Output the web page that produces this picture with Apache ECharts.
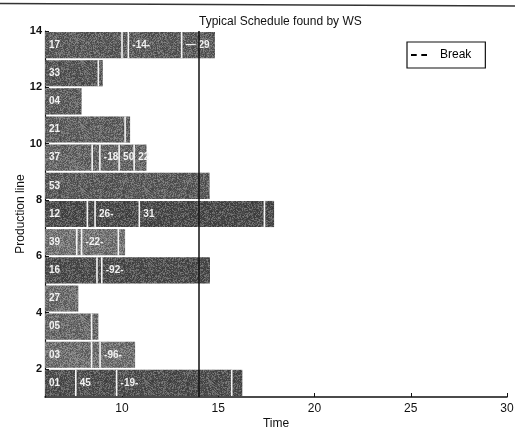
<!DOCTYPE html>
<html>
<head>
<meta charset="utf-8">
<script src="https://cdn.jsdelivr.net/npm/echarts@6/dist/echarts.min.js"></script>
<style>html,body{margin:0;padding:0;background:#fff}#c{width:515px;height:429px}</style>
</head>
<body>
<div id="c"></div>
<script>
// ---- data ----
const jobRow   = [14,14,14,14, 13,13, 12, 11,11, 10,10,10,10,10, 9, 8,8,8,8,8, 7,7,7,7, 6,6,6, 5, 4,4, 3,3,3, 2,2,2,2];
const jobStart = [6,10.0,10.33,13.1, 6,8.77, 6, 6,10.16, 6,8.45,8.85,9.85,10.63, 6, 6,8.2,8.6,10.9,17.4, 6,7.65,7.9,9.81, 6,8.7,8.95, 6, 6,8.42, 6,8.42,8.86, 6,7.6,9.72,15.7];
const jobEnd   = [10.0,10.33,13.1,14.83, 8.77,9.0, 7.9, 10.16,10.42, 8.45,8.85,9.85,10.63,11.27, 14.55, 8.2,8.6,10.9,17.4,17.9, 7.65,7.9,9.81,10.16, 8.7,8.95,14.57, 7.73, 8.42,8.77, 8.42,8.86,10.68, 7.6,9.72,15.7,16.25];
const jobLabel = ['17','','-14-','\u2014 29', '33','', '04', '21','', '37','','-18-','50','22', '53', '12','','26-','31','', '39','','-22-','', '16','','-92-', '27', '05','', '03','','-96-', '01','45','-19-',''];
const breakTime = 14;
const xTicks = [10,15,20,25,30];
const yTicks = [2,4,6,8,10,12,14];

// ---- style ----
const rowShade = {14:'#5c5c5c',13:'#585858',12:'#5e5e5e',11:'#626262',10:'#676767',9:'#5c5c5c',8:'#4b4b4b',7:'#777777',6:'#4e4e4e',5:'#6e6e6e',4:'#6c6c6c',3:'#727272',2:'#505050'};

// deterministic grain texture overlay
const tex = document.createElement('canvas');
tex.width = 64; tex.height = 64;
(function(){
  const ctx = tex.getContext('2d');
  const img = ctx.createImageData(64,64);
  let s = 12345;
  function r(){ s = (s*1103515245 + 12345) & 0x7fffffff; return s/0x7fffffff; }
  for (let i=0;i<64*64;i++){
    const v = r();
    const w = v > 0.5;
    img.data[i*4] = img.data[i*4+1] = img.data[i*4+2] = w ? 255 : 0;
    img.data[i*4+3] = Math.floor(Math.abs(v-0.5)*2*70);
  }
  ctx.putImageData(img,0,0);
})();

const segData = jobRow.map((r,i)=>[r, jobStart[i], jobEnd[i], i]);
const FONT = 'Liberation Sans, Arial, sans-serif';

const chart = echarts.init(document.getElementById('c'), null, {renderer:'canvas'});
chart.setOption({
  animation: false,
  backgroundColor: '#fff',
  title: {
    text: 'Typical Schedule found by WS',
    left: 194, top: 11,
    textStyle: {fontSize: 12, fontWeight: 'normal', color: '#111', fontFamily: FONT}
  },
  legend: {
    data: [{name: 'Break', icon: 'path://M0,0h5v1.6h-5z M9,0h5v1.6h-5z'}],
    left: 407, top: 42,
    borderColor: '#111', borderWidth: 1.2,
    padding: [7, 14, 7, 4],
    itemWidth: 16, itemHeight: 3,
    textStyle: {fontSize: 12, color: '#000', fontFamily: FONT, padding: [0,0,0,8]}
  },
  grid: {left: 45, right: 8, top: 31, bottom: 32, outerBoundsMode: 'none', containLabel: false},
  xAxis: {
    type: 'value', min: 6, max: 30,
    name: 'Time', nameLocation: 'middle', nameGap: 21, nameMoveOverlap: false,
    nameTextStyle: {fontSize: 12, color: '#111', fontFamily: FONT},
    axisLine: {show: true, lineStyle: {color: '#111', width: 1.5}},
    axisTick: {show: true, inside: true, length: 4, customValues: xTicks, lineStyle: {color: '#111'}},
    axisLabel: {customValues: xTicks, fontSize: 12, color: '#111', margin: 6, fontFamily: FONT},
    splitLine: {show: false}
  },
  yAxis: {
    type: 'value', min: 1, max: 14,
    name: 'Production line', nameLocation: 'middle', nameGap: 18, nameMoveOverlap: false,
    nameTextStyle: {fontSize: 12, color: '#111', fontFamily: FONT},
    axisLine: {show: true, lineStyle: {color: '#111', width: 1.2}},
    axisTick: {show: true, inside: true, length: 4, customValues: yTicks, lineStyle: {color: '#111'}},
    axisLabel: {customValues: yTicks, fontSize: 11, fontWeight: 'bold', color: '#111', margin: 3, fontFamily: FONT},
    splitLine: {show: false}
  },
  series: [
    {
      type: 'custom',
      name: 'jobs',
      data: segData,
      renderItem: function(params, api){
        const row = api.value(0), s = api.value(1), e = api.value(2), idx = api.value(3);
        const p1 = api.coord([s, row]);
        const p2 = api.coord([e, row - 1]);
        const x = p1[0], y = p1[1] + 1, w = p2[0] - p1[0], h = p2[1] - p1[1] - 2;
        const children = [
          {type: 'rect', shape: {x: x, y: y, width: w, height: h}, style: {fill: rowShade[row]}},
          {type: 'rect', shape: {x: x, y: y, width: w, height: h}, style: {fill: {image: tex, repeat: 'repeat'}}}
        ];
        if (s > 6.01) {
          children.push({type: 'rect', shape: {x: x - 0.8, y: y, width: 1.6, height: h}, style: {fill: '#f4f4f4'}});
        }
        const lab = jobLabel[idx];
        if (lab) {
          children.push({type: 'text', x: x + 4, y: y + h / 2,
            style: {text: lab, fill: '#f2f2f2', fontSize: 10, fontWeight: 'bold', fontFamily: FONT, verticalAlign: 'middle', align: 'left'}});
        }
        return {type: 'group', children: children};
      },
      z: 2
    },
    {
      type: 'line',
      name: 'Break',
      data: [],
      color: '#000',
      lineStyle: {color: '#000'},
      markLine: {
        silent: true, symbol: 'none', animation: false,
        label: {show: false},
        lineStyle: {color: '#111', width: 1.5, type: 'solid'},
        data: [{xAxis: breakTime}]
      },
      z: 5
    }
  ],
  graphic: [
    {type: 'line', shape: {x1: 0, y1: 3.5, x2: 515, y2: 6}, style: {stroke: '#333', lineWidth: 1.5}}
  ]
});
</script>
</body>
</html>
